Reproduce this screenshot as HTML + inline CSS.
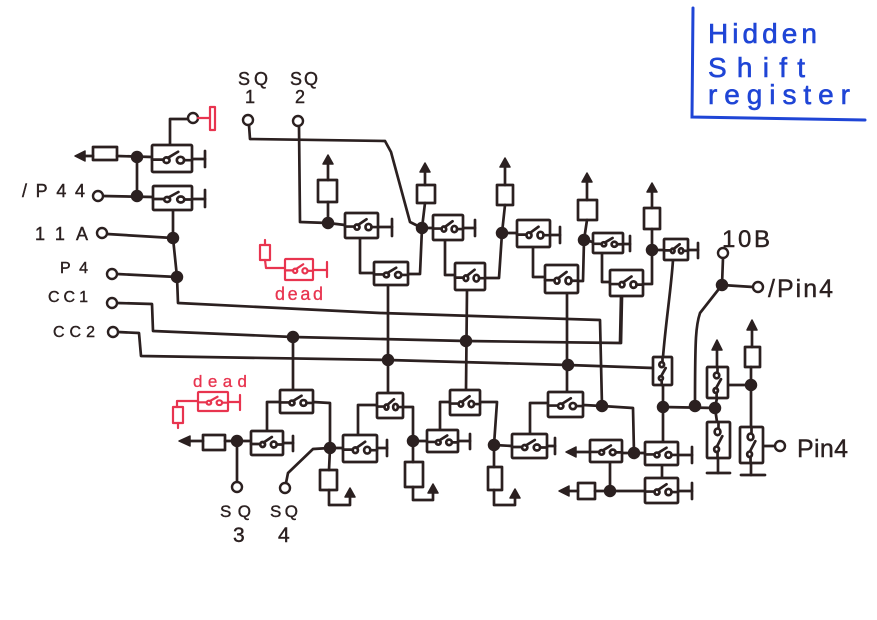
<!DOCTYPE html>
<html><head><meta charset="utf-8"><style>
html,body{margin:0;padding:0;background:#fff;}
svg{display:block;}
text{font-family:"Liberation Sans",sans-serif;}
</style></head><body>
<svg width="877" height="620" viewBox="0 0 877 620" xmlns="http://www.w3.org/2000/svg">
<defs>
<symbol id="sw" viewBox="0 0 33 24" preserveAspectRatio="none" overflow="visible">
<rect x="0" y="0" width="33" height="24" rx="1" vector-effect="non-scaling-stroke"/>
<line x1="0" y1="13" x2="9.5" y2="13" vector-effect="non-scaling-stroke"/>
<circle cx="12" cy="13.5" r="2.5" vector-effect="non-scaling-stroke"/>
<line x1="13" y1="11.5" x2="21.5" y2="6" vector-effect="non-scaling-stroke"/>
<circle cx="23.5" cy="13.5" r="3" vector-effect="non-scaling-stroke"/>
<line x1="26.5" y1="13.5" x2="33" y2="13.5" vector-effect="non-scaling-stroke"/>
</symbol>
<symbol id="swv" viewBox="0 0 24 33" preserveAspectRatio="none" overflow="visible">
<rect x="0" y="0" width="24" height="33" rx="1" vector-effect="non-scaling-stroke"/>
<line x1="12" y1="0" x2="12" y2="6" vector-effect="non-scaling-stroke"/>
<circle cx="11" cy="9" r="3" vector-effect="non-scaling-stroke"/>
<line x1="10" y1="23" x2="16" y2="13" vector-effect="non-scaling-stroke"/>
<circle cx="10" cy="25" r="2.5" vector-effect="non-scaling-stroke"/>
<line x1="11" y1="27.5" x2="11" y2="33" vector-effect="non-scaling-stroke"/>
</symbol>
</defs>

<g fill="none" stroke="#2b2020" stroke-width="2.7" stroke-linecap="round" stroke-linejoin="round">
<polyline points="188,119 170,119 170,145"/>
<polyline points="85,156 93,156"/>
<polyline points="117,156 152,157"/>
<polyline points="137,157 137,196"/>
<polyline points="103,196 153,197"/>
<polyline points="192,159 205,159"/><polyline points="205,151 205,167"/>
<polyline points="192,199 205,199"/><polyline points="205,190 205,207"/>
<polyline points="173,210 173,238 177,277 178,303 380,313 600,320 602,406"/>
<polyline points="107,234 173,238"/>
<polyline points="117,274 177,277"/>
<polyline points="117,303 152,304 153,331 293,337 466,341 620,343 621,296"/>
<polyline points="118,332 139,333 141,356 388,360 568,365 653,368"/>
<rect x="93" y="147" width="24" height="13"/>

<polyline points="249,125 250,139 385,141 391,152 410,222 422,228"/>
<polyline points="299,126 300,222 328,223 345,225"/>
<polyline points="328,223 328,202"/><rect x="318" y="180" width="19" height="22"/><polyline points="328,180 328,164"/>
<polyline points="378,227 392,227"/><polyline points="392,219 392,236"/>
<polyline points="360,238 360,273 374,273"/>
<polyline points="408,274 420,274 422,228 433,228"/>
<polyline points="422,228 425,203"/><rect x="417" y="185" width="18" height="18"/><polyline points="425,185 425,172"/>
<polyline points="463,228 475,228"/><polyline points="475,220 475,236"/>
<polyline points="445,240 445,275 455,275"/>
<polyline points="485,278 499,278 502,233 517,233"/>
<polyline points="502,233 505,205"/><rect x="497" y="185" width="16" height="20"/><polyline points="505,185 505,167"/>
<polyline points="550,235 560,235"/><polyline points="560,227 560,243"/>
<polyline points="533,247 533,277 545,277"/>
<polyline points="578,281 583,281 584,240 593,242"/>
<polyline points="584,240 587,220"/><rect x="578" y="200" width="19" height="20"/><polyline points="587,200 587,182"/>
<polyline points="623,244 630,244"/><polyline points="630,236 630,251"/>
<polyline points="602,253 602,282 610,282"/>
<polyline points="643,284 652,284 652,250 664,250"/>
<polyline points="652,250 652,229"/><rect x="644" y="208" width="16" height="21"/><polyline points="652,208 652,192"/>
<polyline points="688,250 698,250"/><polyline points="698,243 698,258"/>
<path d="M673,260 C671,290 666,320 663,357"/>
<polyline points="388,285 388,393"/>
<polyline points="467,290 466,390"/>
<polyline points="567,293 567,392"/>
<polyline points="622,296 621,343"/>

<polyline points="663,385 663,442"/>
<polyline points="723,258 722,285 753,287"/>
<path d="M722,285 L700,313 C696,325 695,335 695,406"/>
<polyline points="663,407 715,408"/>
<polyline points="583,405 602,406 633,408 634,453"/>
<polyline points="717,350 717,367"/>
<polyline points="717,398 715,408 717,422"/>
<polyline points="728,385 751,385"/>
<polyline points="751,367 751,427"/>
<rect x="745" y="347" width="15" height="20"/><polyline points="752,347 752,330"/>
<polyline points="718,458 718,473"/><polyline points="707,473 730,473"/>
<polyline points="751,463 751,475"/><polyline points="741,475 765,475"/>
<polyline points="763,446 775,446"/>
<polyline points="590,452 576,452"/>
<polyline points="622,453 645,453"/>
<polyline points="678,455 692,455"/><polyline points="692,447 692,463"/>
<polyline points="662,465 662,478"/>
<polyline points="678,491 692,491"/><polyline points="692,483 692,499"/>
<polyline points="610,462 610,491 645,491"/>
<polyline points="610,491 595,491"/><rect x="578" y="483" width="17" height="16"/><polyline points="578,491 569,491"/>

<polyline points="293,337 293,390"/>
<polyline points="280,402 267,402 267,431"/>
<polyline points="283,443 293,443"/><polyline points="293,436 293,451"/>
<polyline points="251,441 225,441"/><rect x="203" y="435" width="22" height="15"/><polyline points="203,441 190,441"/>
<polyline points="237,441 237,482"/>
<polyline points="313,402 330,403 330,448 343,448"/>
<polyline points="286,483 288,473 313,449 330,448"/>
<polyline points="377,448 387,448"/><polyline points="387,440 387,456"/>
<polyline points="330,448 329,470"/><rect x="320" y="470" width="17" height="20"/><polyline points="329,490 329,505 350,505 350,497"/>
<polyline points="377,405 358,405 358,435"/>
<polyline points="403,407 413,407 413,441 427,441"/>
<polyline points="458,441 470,441"/><polyline points="470,434 470,449"/>
<polyline points="413,441 413,462"/><rect x="405" y="462" width="18" height="25"/><polyline points="413,487 413,500 433,500 433,493"/>
<polyline points="450,402 440,402 440,430"/>
<polyline points="480,402 497,402 494,445 512,446"/>
<polyline points="547,446 555,446"/><polyline points="555,438 555,454"/>
<polyline points="494,445 494,467"/><rect x="488" y="467" width="14" height="23"/><polyline points="494,490 494,505 515,505 515,498"/>
<polyline points="548,403 530,403 530,434"/>

<g fill="#fff">
<use href="#sw" x="152" y="145" width="40" height="27"/>
<use href="#sw" x="153" y="186" width="39" height="24"/>
<use href="#sw" x="345" y="213" width="33" height="25"/>
<use href="#sw" x="433" y="215" width="30" height="25"/>
<use href="#sw" x="517" y="220" width="33" height="27"/>
<use href="#sw" x="593" y="233" width="30" height="20"/>
<use href="#sw" x="664" y="239" width="24" height="21"/>
<use href="#sw" x="374" y="262" width="34" height="23"/>
<use href="#sw" x="455" y="263" width="30" height="27"/>
<use href="#sw" x="545" y="265" width="33" height="28"/>
<use href="#sw" x="610" y="270" width="33" height="26"/>
<use href="#sw" x="280" y="390" width="33" height="23"/>
<use href="#sw" x="377" y="393" width="26" height="25"/>
<use href="#sw" x="450" y="390" width="30" height="25"/>
<use href="#sw" x="548" y="392" width="35" height="25"/>
<use href="#sw" x="251" y="431" width="32" height="24"/>
<use href="#sw" x="343" y="435" width="34" height="27"/>
<use href="#sw" x="427" y="430" width="31" height="22"/>
<use href="#sw" x="512" y="434" width="35" height="24"/>
<use href="#sw" x="590" y="440" width="32" height="22"/>
<use href="#sw" x="645" y="442" width="33" height="23"/>
<use href="#sw" x="645" y="478" width="33" height="25"/>
<use href="#swv" x="653" y="357" width="19" height="28"/>
<use href="#swv" x="707" y="367" width="21" height="31"/>
<use href="#swv" x="707" y="422" width="23" height="36"/>
<use href="#swv" x="740" y="427" width="23" height="36"/>
</g>

<g fill="#fff" stroke-width="2.4">
<circle cx="193" cy="118" r="5"/>
<circle cx="98" cy="196" r="5"/>
<circle cx="102" cy="233" r="5"/>
<circle cx="112" cy="274" r="5"/>
<circle cx="112" cy="303" r="5"/>
<circle cx="113" cy="332" r="5"/>
<circle cx="248" cy="120" r="5"/>
<circle cx="298" cy="121" r="5"/>
<circle cx="723" cy="253" r="5"/>
<circle cx="758" cy="287" r="5"/>
<circle cx="780" cy="446" r="5"/>
<circle cx="237" cy="487" r="5"/>
<circle cx="285" cy="488" r="5"/>
</g>
</g>

<g fill="#2b2020" stroke="#2b2020" stroke-width="1.5" stroke-linejoin="round">
<circle cx="137" cy="157" r="5.5"/><circle cx="137" cy="196" r="5.5"/>
<circle cx="173" cy="238" r="5.5"/><circle cx="177" cy="277" r="5.5"/>
<circle cx="328" cy="223" r="5.5"/><circle cx="422" cy="228" r="5.5"/>
<circle cx="502" cy="233" r="5.5"/><circle cx="584" cy="240" r="5.5"/>
<circle cx="652" cy="250" r="5.5"/><circle cx="293" cy="337" r="5.5"/>
<circle cx="466" cy="341" r="5.5"/><circle cx="388" cy="360" r="5.5"/>
<circle cx="568" cy="365" r="5.5"/><circle cx="602" cy="406" r="5.5"/>
<circle cx="663" cy="407" r="5.5"/><circle cx="695" cy="406" r="5.5"/>
<circle cx="715" cy="408" r="5.5"/><circle cx="751" cy="385" r="5.5"/>
<circle cx="722" cy="285" r="5.5"/><circle cx="634" cy="453" r="5.5"/>
<circle cx="610" cy="491" r="5.5"/><circle cx="237" cy="441" r="5.5"/>
<circle cx="330" cy="448" r="5.5"/><circle cx="413" cy="441" r="5.5"/>
<circle cx="494" cy="445" r="5.5"/>
<polygon points="328,155 323,164 333,164"/>
<polygon points="425,163 420,172 430,172"/>
<polygon points="505,158 500,167 510,167"/>
<polygon points="587,173 582,182 592,182"/>
<polygon points="652,183 647,192 657,192"/>
<polygon points="717,340 712,350 722,350"/>
<polygon points="752,320 747,330 757,330"/>
<polygon points="350,488 345,497 355,497"/>
<polygon points="433,484 428,493 438,493"/>
<polygon points="515,489 510,498 520,498"/>
<polygon points="75,156 85,151 85,161"/>
<polygon points="179,441 190,436 190,446"/>
<polygon points="566,452 576,447 576,457"/>
<polygon points="559,491 569,486 569,496"/>
</g>

<g fill="none" stroke="#e8344f" stroke-width="2.2" stroke-linecap="round" stroke-linejoin="round">
<polyline points="198,118 210,118"/>
<rect x="210" y="107" width="5" height="23"/>
<polyline points="265,240 265,245"/>
<rect x="260" y="245" width="10" height="15"/>
<polyline points="265,260 266,268 285,268"/>
<use href="#sw" x="285" y="259" width="28" height="21"/>
<polyline points="313,270 327,270"/><polyline points="327,262 327,277"/>
<use href="#sw" x="198" y="392" width="30" height="19"/>
<polyline points="228,402 240,402"/><polyline points="240,395 240,410"/>
<polyline points="198,401 177,401 177,407"/>
<rect x="173" y="407" width="10" height="16"/>
<polyline points="178,423 178,428"/>
</g>
<g fill="#e8344f" stroke="#e8344f" stroke-width="0.3">
<text x="275" y="300" font-size="18" textLength="48" lengthAdjust="spacing">dead</text>
<text x="193" y="387" font-size="17" textLength="54" lengthAdjust="spacing">dead</text>
</g>

<g fill="#2b2020" stroke="#2b2020" stroke-width="0.4">
<text x="238" y="85" font-size="18" textLength="30" lengthAdjust="spacing">SQ</text>
<text x="245" y="103" font-size="18">1</text>
<text x="290" y="85" font-size="18" textLength="28" lengthAdjust="spacing">SQ</text>
<text x="295" y="103" font-size="18">2</text>
<text x="22" y="197" font-size="18" textLength="63" lengthAdjust="spacing">/P44</text>
<text x="35" y="240" font-size="18" textLength="53" lengthAdjust="spacing">11A</text>
<text x="60" y="273" font-size="16" textLength="28" lengthAdjust="spacing">P4</text>
<text x="48" y="302" font-size="16" textLength="40" lengthAdjust="spacing">CC1</text>
<text x="53" y="337" font-size="16" textLength="42" lengthAdjust="spacing">CC2</text>
<text x="722" y="247" font-size="24" textLength="48" lengthAdjust="spacing">10B</text>
<text x="768" y="297" font-size="25" textLength="65" lengthAdjust="spacing">/Pin4</text>
<text x="797" y="457" font-size="25" textLength="51" lengthAdjust="spacing">Pin4</text>
<text x="220" y="517" font-size="17" textLength="31" lengthAdjust="spacing">SQ</text>
<text x="233" y="542" font-size="21">3</text>
<text x="270" y="517" font-size="17" textLength="28" lengthAdjust="spacing">SQ</text>
<text x="278" y="542" font-size="21">4</text>
</g>

<g stroke="#1f45d6" stroke-width="3" fill="none" stroke-linecap="round">
<polyline points="693,8 692,117 865,120"/>
</g>
<g fill="#1f45d6" stroke="#1f45d6" stroke-width="0.6">
<text x="708" y="43" font-size="28" textLength="109" lengthAdjust="spacing">Hidden</text>
<text x="708" y="77" font-size="28" textLength="97" lengthAdjust="spacing">Shift</text>
<text x="708" y="104" font-size="28" textLength="142" lengthAdjust="spacing">register</text>
</g>
</svg>
</body></html>
